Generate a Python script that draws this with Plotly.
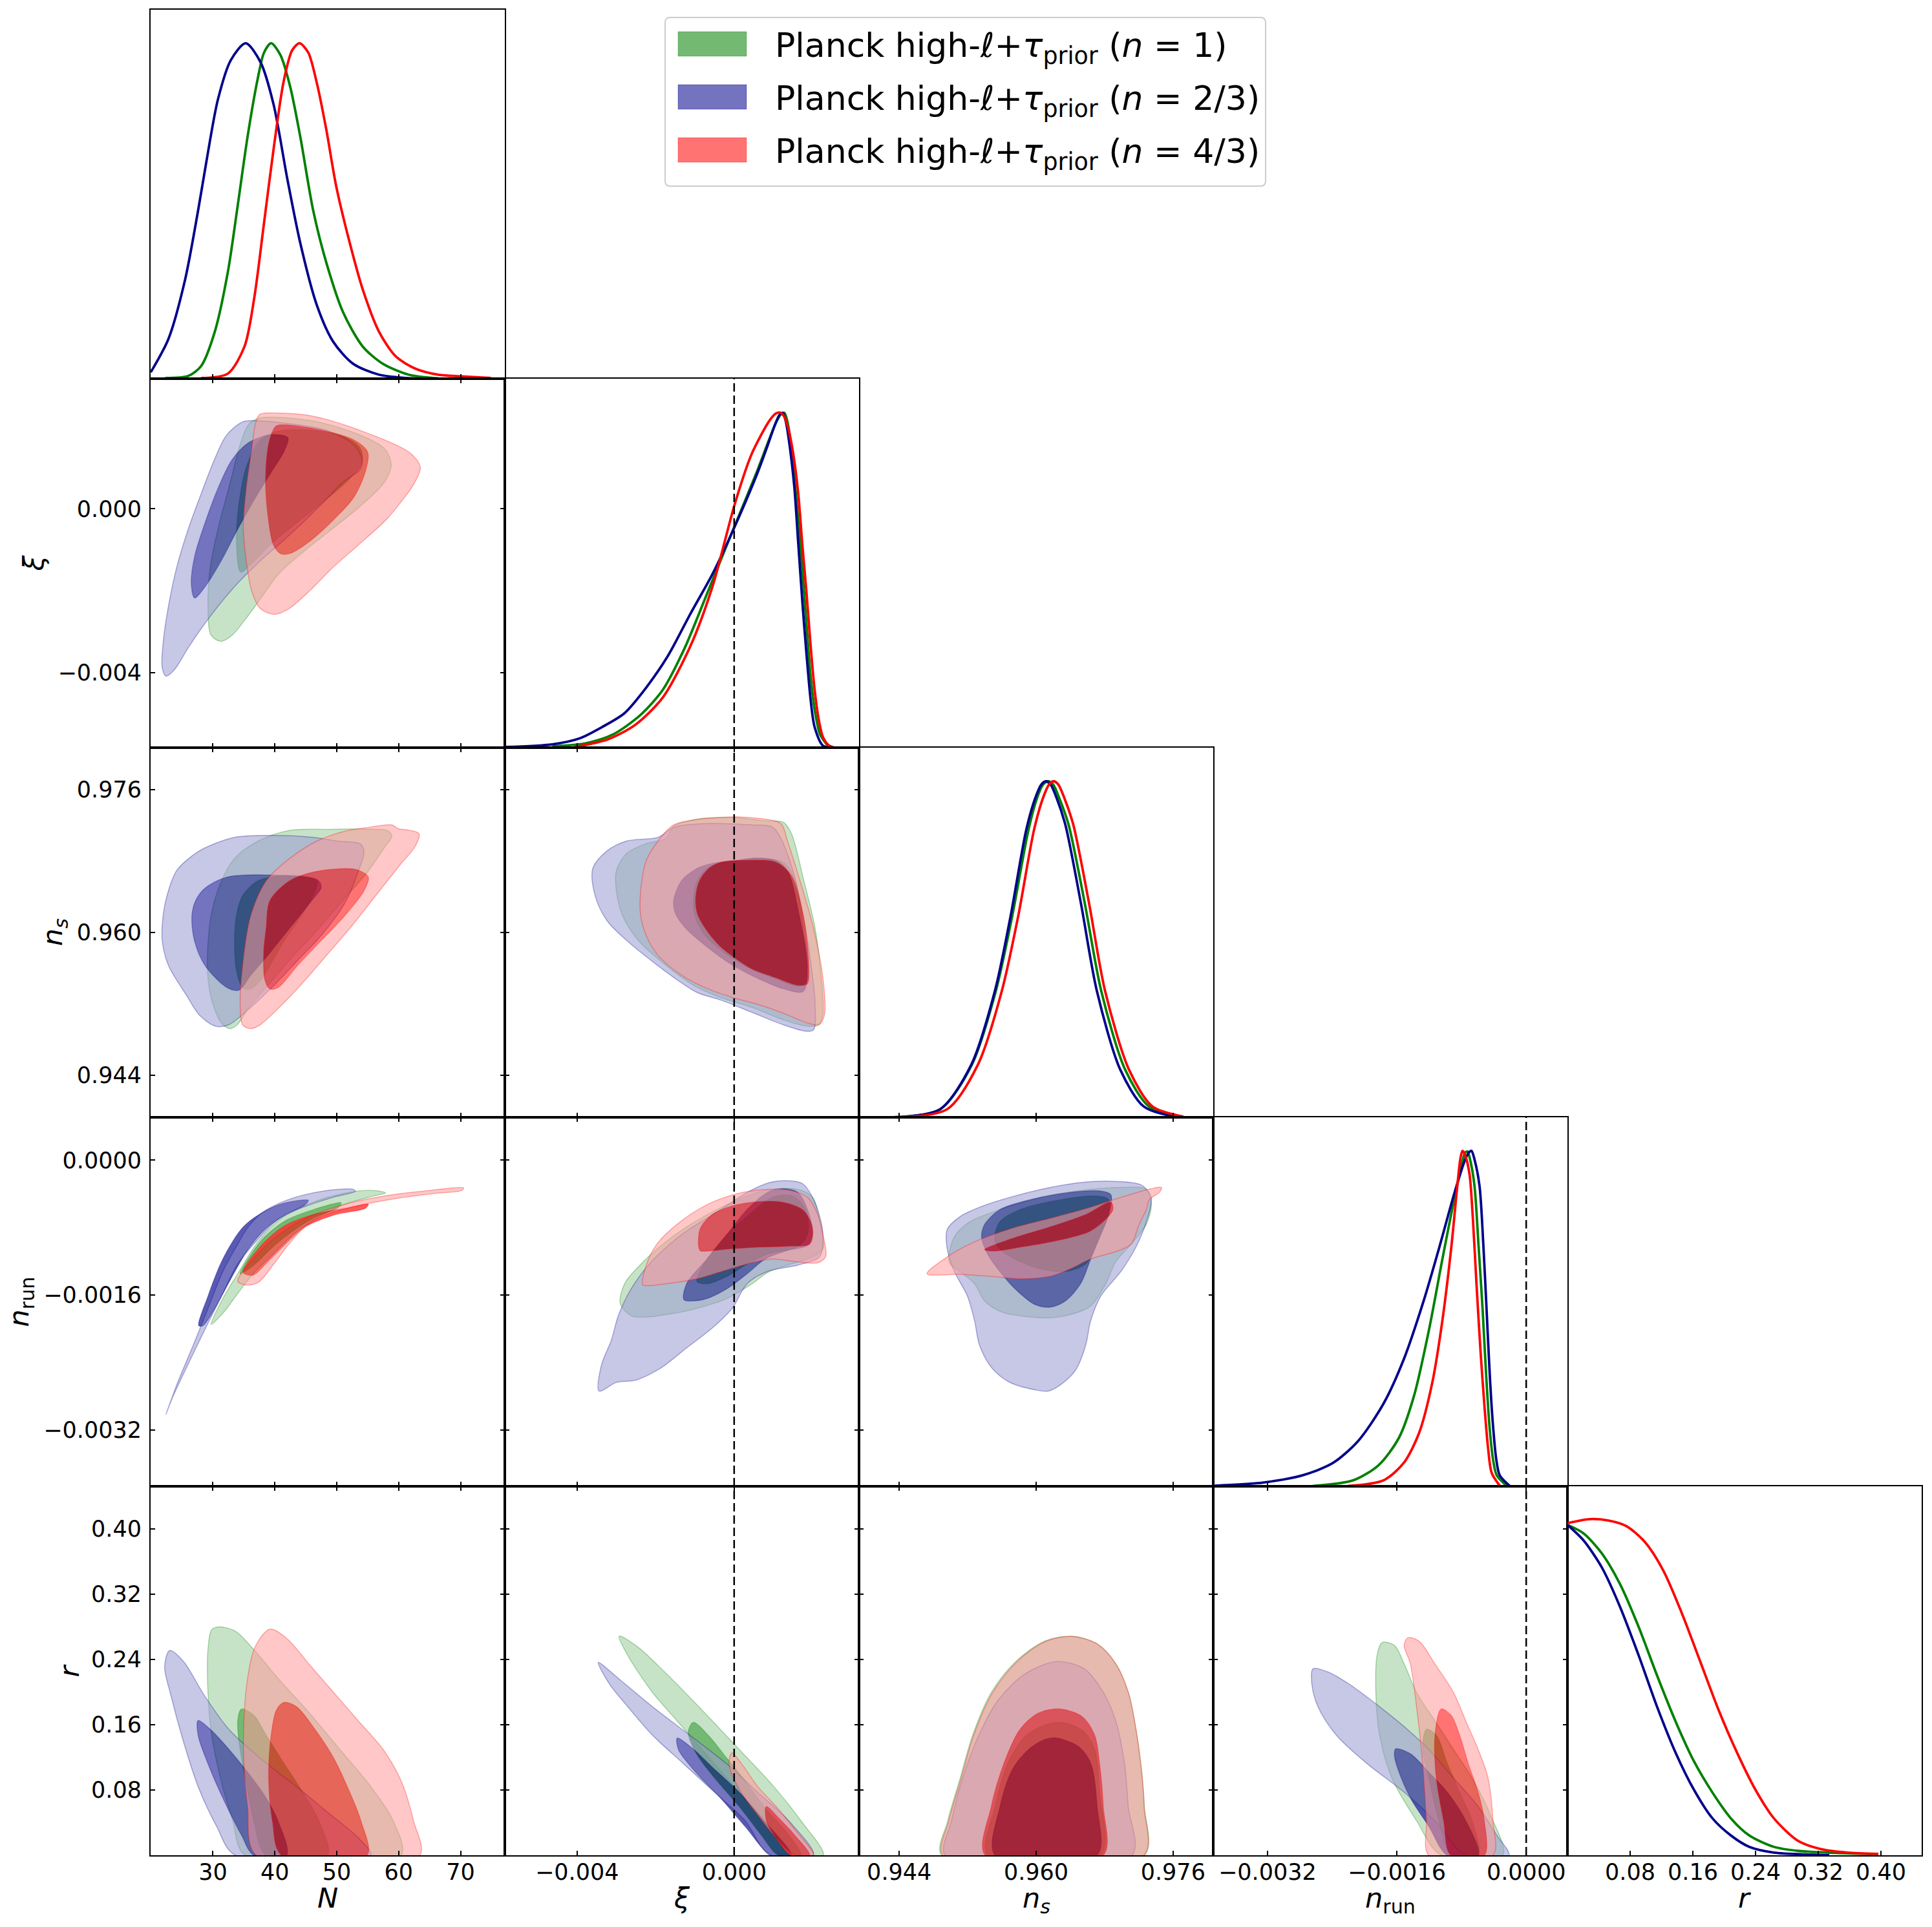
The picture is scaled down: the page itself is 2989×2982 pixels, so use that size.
import plotly.graph_objects as go

# ---------------- figure geometry (pixels) ----------------
W, H = 2989, 2982
COL_X = [233, 781, 1329, 1877, 2425, 2973]
ROW_Y = [15, 586, 1157, 1729, 2300, 2871]

# ---------------- series / labels ----------------
SERIES_NAMES = [
    "Planck high-<i>ℓ</i>+<i>τ</i><sub>prior</sub> (<i>n</i> = 1)",
    "Planck high-<i>ℓ</i>+<i>τ</i><sub>prior</sub> (<i>n</i> = 2/3)",
    "Planck high-<i>ℓ</i>+<i>τ</i><sub>prior</sub> (<i>n</i> = 4/3)",
]
SERIES_RGB = [(0, 128, 0), (0, 0, 139), (255, 0, 0)]
PARAM_LABELS = ["<i>N</i>", "<i>ξ</i>", "<i>n</i><sub><i>s</i></sub>", "<i>n</i><sub>run</sub>", "<i>r</i>"]

RANGE_N = [19.93, 77.15]
RANGE_XI = [-0.00584, 0.00318]
RANGE_NS = [0.9393, 0.9807]
RANGE_NRUN = [-0.00387, 0.00051]
RANGE_R = [0.0, 0.452]

TICKS_N = [30, 40, 50, 60, 70]
TICKTEXT_N = ["30", "40", "50", "60", "70"]
TICKS_XI = [-0.004, 0.0]
TICKTEXT_XI = ["−0.004", "0.000"]
TICKS_NS = [0.944, 0.960, 0.976]
TICKTEXT_NS = ["0.944", "0.960", "0.976"]
TICKS_NRUN = [-0.0032, -0.0016, 0.0]
TICKTEXT_NRUN = ["−0.0032", "−0.0016", "0.0000"]
TICKS_R = [0.08, 0.16, 0.24, 0.32, 0.40]
TICKTEXT_R = ["0.08", "0.16", "0.24", "0.32", "0.40"]

# ---------------- 1D marginals (x, normalised density) ----------------
MARG_N_GREEN = [(22.3, 0.002), (26.0, 0.008), (28.1, 0.038), (30.3, 0.14), (32.4, 0.317), (34.0, 0.516), (35.6, 0.722),
                (37.2, 0.891), (38.25, 0.972), (39.4, 1.0), (40.9, 0.965), (42.5, 0.869), (44.1, 0.722), (46.2, 0.501),
                (48.3, 0.347), (51.0, 0.199), (54.2, 0.096), (57.4, 0.045), (61.6, 0.012), (66.4, 0.001)]
MARG_N_BLUE = [(19.95, 0.019), (22.8, 0.118), (25.5, 0.295), (27.6, 0.501), (28.95, 0.648), (30.8, 0.832), (32.9, 0.950),
               (35.3, 1.0), (37.7, 0.943), (39.8, 0.817), (42.0, 0.597), (44.1, 0.405), (46.75, 0.221), (49.4, 0.111),
               (52.6, 0.045), (56.8, 0.012), (62.2, 0.001), (64.8, 0.0)]
MARG_N_RED = [(28.1, 0.002), (32.4, 0.015), (35.1, 0.096), (36.7, 0.244), (38.25, 0.464), (39.8, 0.685), (41.4, 0.884),
              (42.8, 0.979), (44.0, 1.0), (45.4, 0.972), (46.75, 0.884), (48.3, 0.744), (49.9, 0.575), (52.1, 0.405),
              (54.2, 0.266), (56.8, 0.141), (59.5, 0.067), (62.7, 0.030), (66.4, 0.012), (70.1, 0.007), (74.9, 0.002)]

MARG_XI_GREEN = [(-0.00463, 0.004), (-0.00379, 0.013), (-0.00309, 0.039), (-0.00238, 0.098), (-0.00182, 0.172),
                 (-0.00126, 0.297), (-0.00069, 0.459), (0.00001, 0.66), (0.00057, 0.820), (0.00088, 0.915),
                 (0.00107, 0.97), (0.00120, 0.995), (0.00128, 0.998), (0.00135, 0.975), (0.00143, 0.92),
                 (0.00157, 0.76), (0.00173, 0.54), (0.00184, 0.37), (0.00195, 0.208), (0.00207, 0.10),
                 (0.00219, 0.039), (0.00240, 0.004)]
MARG_XI_BLUE = [(-0.00583, 0.002), (-0.00463, 0.010), (-0.00393, 0.028), (-0.00337, 0.061), (-0.00280, 0.102),
                (-0.00224, 0.179), (-0.00168, 0.275), (-0.00111, 0.400), (-0.00055, 0.518), (0.00001, 0.658),
                (0.00057, 0.812), (0.00085, 0.90), (0.00103, 0.96), (0.00116, 0.993), (0.00124, 0.998),
                (0.00131, 0.975), (0.00139, 0.92), (0.00153, 0.78), (0.00163, 0.613), (0.00174, 0.43),
                (0.00184, 0.282), (0.00195, 0.14), (0.00205, 0.061), (0.00226, 0.006), (0.00254, 0.0)]
MARG_XI_RED = [(-0.00407, 0.002), (-0.00323, 0.024), (-0.00252, 0.068), (-0.00182, 0.149), (-0.00111, 0.304),
               (-0.00055, 0.481), (0.00001, 0.724), (0.00043, 0.871), (0.00070, 0.935), (0.00090, 0.975),
               (0.00106, 0.996), (0.00116, 0.999), (0.00126, 0.99), (0.00136, 0.96), (0.00150, 0.88),
               (0.00163, 0.76), (0.00174, 0.60), (0.00184, 0.466), (0.00195, 0.30), (0.00205, 0.172),
               (0.00216, 0.08), (0.00226, 0.032), (0.00240, 0.008), (0.00254, 0.001)]

MARG_NS_GREEN = [(0.9433, 0.0), (0.9488, 0.024), (0.9525, 0.157), (0.9553, 0.377), (0.9572, 0.598), (0.9591, 0.855),
                 (0.9601, 0.95), (0.9608, 0.99), (0.9614, 1.0), (0.9620, 0.99), (0.9627, 0.95), (0.9638, 0.870),
                 (0.9657, 0.635), (0.9676, 0.377), (0.9704, 0.142), (0.9732, 0.032), (0.9769, 0.002)]
MARG_NS_BLUE = [(0.94327, 0.0), (0.94877, 0.024), (0.95243, 0.157), (0.95519, 0.377), (0.95701, 0.598),
                (0.95884, 0.855), (0.95990, 0.95), (0.96060, 0.99), (0.96113, 1.0), (0.96170, 0.99),
                (0.96240, 0.95), (0.96342, 0.870), (0.96525, 0.635), (0.96709, 0.377), (0.96983, 0.142),
                (0.97258, 0.032), (0.97624, 0.002)]
MARG_NS_RED = [(0.9440, 0.0), (0.9496, 0.024), (0.9532, 0.157), (0.9560, 0.377), (0.9579, 0.598), (0.95975, 0.855),
               (0.9608, 0.95), (0.9615, 0.99), (0.96205, 1.0), (0.9626, 0.99), (0.9633, 0.95), (0.96435, 0.870),
               (0.9662, 0.635), (0.96805, 0.377), (0.97085, 0.142), (0.9736, 0.032), (0.9772, 0.002)]

MARG_NRUN_GREEN = [(-0.002636, 0.001), (-0.002137, 0.018), (-0.001825, 0.063), (-0.001575, 0.144), (-0.001388, 0.269),
                   (-0.001201, 0.468), (-0.001039, 0.674), (-0.000889, 0.858), (-0.000789, 0.968), (-0.000755, 0.995),
                   (-0.000725, 0.998), (-0.000690, 0.97), (-0.000639, 0.895), (-0.000590, 0.72), (-0.000539, 0.527),
                   (-0.000495, 0.33), (-0.000452, 0.173), (-0.000410, 0.08), (-0.000365, 0.033), (-0.000240, 0.001)]
MARG_NRUN_BLUE = [(-0.00387, 0.001), (-0.003822, 0.002), (-0.003261, 0.011), (-0.002762, 0.033), (-0.002387, 0.070),
                  (-0.002075, 0.136), (-0.001763, 0.247), (-0.001513, 0.379), (-0.001264, 0.556), (-0.001076, 0.711),
                  (-0.000889, 0.873), (-0.000764, 0.968), (-0.000710, 0.995), (-0.000677, 1.0), (-0.000640, 0.975),
                  (-0.000577, 0.895), (-0.000530, 0.72), (-0.000490, 0.527), (-0.000450, 0.33), (-0.000415, 0.195),
                  (-0.000370, 0.08), (-0.000328, 0.033), (-0.000203, 0.001)]
MARG_NRUN_RED = [(-0.002200, 0.001), (-0.001763, 0.018), (-0.001513, 0.070), (-0.001326, 0.158), (-0.001164, 0.306),
                 (-0.001039, 0.490), (-0.000927, 0.711), (-0.000852, 0.895), (-0.000815, 0.975), (-0.000789, 1.0),
                 (-0.000760, 0.99), (-0.000702, 0.932), (-0.000660, 0.80), (-0.000614, 0.600), (-0.000564, 0.40),
                 (-0.000514, 0.232), (-0.000470, 0.11), (-0.000427, 0.040), (-0.000328, 0.002)]

MARG_R_GREEN = [(0.0, 0.985), (0.0204, 0.960), (0.0439, 0.900), (0.0674, 0.807), (0.0910, 0.680), (0.1145, 0.535),
                (0.1380, 0.399), (0.1615, 0.280), (0.1851, 0.187), (0.2086, 0.110), (0.2321, 0.059), (0.2635, 0.025),
                (0.2949, 0.013), (0.3419, 0.007), (0.3968, 0.003)]
MARG_R_BLUE = [(0.0, 0.985), (0.0204, 0.939), (0.0439, 0.858), (0.0674, 0.739), (0.0910, 0.595), (0.1145, 0.442),
               (0.1380, 0.306), (0.1615, 0.195), (0.1851, 0.110), (0.2086, 0.059), (0.2321, 0.025), (0.2635, 0.008),
               (0.3105, 0.002), (0.334, 0.0)]
MARG_R_RED = [(0.0, 0.990), (0.0282, 1.002), (0.0518, 0.998), (0.0753, 0.981), (0.0988, 0.934), (0.1223, 0.849),
              (0.1459, 0.722), (0.1694, 0.578), (0.1929, 0.433), (0.2164, 0.306), (0.2400, 0.195), (0.2635, 0.110),
              (0.2949, 0.042), (0.3262, 0.017), (0.3576, 0.008), (0.3968, 0.004)]

# ---------------- 2D contours (x, y) : 95% and 68% regions ----------------
# row xi, column N
XI_N_GREEN_95 = [(37.6, 2.22e-3), (45.6, 2.16e-3), (52.8, 1.86e-3), (57.7, 1.47e-3), (58.8, 1.08e-3), (57.7, 0.65e-3),
                 (53.7, 0.05e-3), (49.2, -0.50e-3), (44.7, -1.04e-3), (40.7, -1.58e-3), (38.0, -2.13e-3),
                 (35.4, -2.67e-3), (33.1, -3.09e-3), (31.3, -3.24e-3), (29.7, -3.09e-3), (29.2, -2.37e-3),
                 (29.6, -1.40e-3), (30.9, -0.44e-3), (32.7, 0.59e-3), (34.5, 1.62e-3), (35.8, 2.07e-3)]
XI_N_GREEN_68 = [(34.5, -1.55e-3), (33.8, -0.80e-3), (34.2, 0.11e-3), (35.4, 1.02e-3), (37.6, 1.68e-3), (40.3, 1.89e-3),
                 (45.6, 1.92e-3), (51.0, 1.77e-3), (53.7, 1.50e-3), (54.1, 1.14e-3), (51.9, 0.71e-3), (48.3, 0.23e-3),
                 (43.8, -0.31e-3), (39.4, -0.86e-3), (36.25, -1.34e-3)]
XI_N_BLUE_95 = [(34.9, 2.13e-3), (37.6, 2.145e-3), (42.9, 2.07e-3), (48.3, 1.92e-3), (52.8, 1.56e-3), (54.1, 1.20e-3),
                (53.7, 0.95e-3), (51.0, 0.65e-3), (48.3, 0.23e-3), (44.7, -0.31e-3), (41.2, -0.80e-3),
                (37.6, -1.28e-3), (34.0, -1.82e-3), (30.9, -2.37e-3), (28.2, -2.91e-3), (26.0, -3.40e-3),
                (23.75, -3.94e-3), (22.4, -4.09e-3), (21.8, -3.88e-3), (22.0, -3.21e-3), (22.9, -2.31e-3),
                (24.2, -1.40e-3), (26.0, -0.50e-3), (28.2, 0.41e-3), (30.4, 1.26e-3), (32.2, 1.80e-3)]
XI_N_BLUE_68 = [(27.05, -2.18e-3), (26.5, -1.82e-3), (27.05, -1.16e-3), (28.8, -0.31e-3), (30.9, 0.53e-3),
                (33.1, 1.20e-3), (35.8, 1.62e-3), (39.4, 1.81e-3), (42.1, 1.74e-3), (41.6, 1.44e-3), (39.4, 0.89e-3),
                (36.7, 0.23e-3), (34.0, -0.50e-3), (31.3, -1.28e-3), (28.8, -1.89e-3)]
XI_N_RED_95 = [(37.6, 2.31e-3), (40.3, 2.34e-3), (45.6, 2.28e-3), (53.7, 1.92e-3), (61.7, 1.38e-3), (63.5, 1.02e-3),
               (62.4, 0.59e-3), (60.4, 0.17e-3), (58.1, -0.25e-3), (53.7, -0.86e-3), (49.2, -1.46e-3),
               (45.6, -2.01e-3), (42.1, -2.46e-3), (39.8, -2.58e-3), (37.6, -2.43e-3), (36.25, -2.01e-3),
               (35.4, -1.28e-3), (34.9, -0.44e-3), (35.4, 0.53e-3), (36.25, 1.44e-3), (36.9, 2.10e-3)]
XI_N_RED_68 = [(40.3, 2.03e-3), (45.6, 1.98e-3), (52.8, 1.68e-3), (55.0, 1.38e-3), (54.7, 0.95e-3), (52.8, 0.29e-3),
               (49.2, -0.31e-3), (45.6, -0.80e-3), (42.5, -1.09e-3), (41.0, -1.10e-3), (39.8, -0.89e-3),
               (38.9, -0.19e-3), (38.5, 0.71e-3), (38.9, 1.50e-3), (39.55, 1.86e-3)]

# row n_s, column N
NS_N_GREEN_95 = [(33.5, 0.96829), (37.3, 0.97024), (42.4, 0.97144), (48.7, 0.97155), (55.1, 0.97158), (58.2, 0.97141),
                 (58.9, 0.97080), (57.6, 0.96941), (55.1, 0.96690), (51.3, 0.96384), (46.8, 0.96022), (42.7, 0.95716),
                 (38.9, 0.95410), (35.8, 0.95160), (33.9, 0.94965), (32.7, 0.94923), (31.3, 0.94993), (29.7, 0.95271),
                 (29.1, 0.95633), (29.7, 0.96189), (31.4, 0.96579)]
NS_N_GREEN_68 = [(33.8, 0.96189), (34.8, 0.96412), (37.3, 0.96579), (41.1, 0.96634), (44.9, 0.96621), (46.8, 0.96579),
                 (46.2, 0.96412), (44.3, 0.96189), (41.8, 0.95939), (39.9, 0.95716), (38.0, 0.95494), (36.1, 0.95368),
                 (34.8, 0.95382), (33.8, 0.95577), (33.5, 0.95911)]
NS_N_BLUE_95 = [(28.5, 0.96941), (33.5, 0.97066), (39.9, 0.97088), (46.2, 0.97066), (50.0, 0.97024), (53.8, 0.96991),
                (54.4, 0.96899), (53.5, 0.96690), (51.3, 0.96328), (47.5, 0.95967), (43.7, 0.95688), (39.9, 0.95410),
                (36.1, 0.95160), (32.5, 0.94965), (30.4, 0.94951), (27.8, 0.95076), (25.7, 0.95299), (22.8, 0.95633),
                (21.8, 0.95911), (22.2, 0.96301), (24.1, 0.96690), (26.6, 0.96857)]
NS_N_BLUE_68 = [(27.2, 0.96356), (28.7, 0.96495), (32.3, 0.96621), (39.9, 0.96643), (46.8, 0.96593), (47.5, 0.96509),
                (45.6, 0.96328), (42.4, 0.96050), (39.2, 0.95772), (36.1, 0.95521), (34.2, 0.95354), (32.3, 0.95382),
                (28.7, 0.95633), (27.0, 0.95911), (26.6, 0.96189)]
NS_N_RED_95 = [(51.3, 0.97135), (55.1, 0.97177), (58.9, 0.97205), (59.9, 0.97163), (61.4, 0.97149), (63.3, 0.97107),
               (62.7, 0.96968), (60.1, 0.96746), (56.3, 0.96412), (52.5, 0.96078), (48.7, 0.95772), (44.9, 0.95466),
               (41.1, 0.95187), (37.6, 0.94965), (36.1, 0.94923), (34.8, 0.94965), (34.4, 0.95215), (34.8, 0.95633),
               (36.1, 0.96189), (38.6, 0.96579), (42.4, 0.96829), (46.8, 0.97024)]
NS_N_RED_68 = [(38.6, 0.96050), (39.2, 0.96356), (42.4, 0.96579), (46.2, 0.96676), (50.0, 0.96712), (53.2, 0.96704),
               (55.1, 0.96621), (54.4, 0.96467), (51.3, 0.96189), (47.5, 0.95911), (43.7, 0.95633), (40.5, 0.95382),
               (39.2, 0.95368), (38.4, 0.95466), (38.2, 0.95772)]

# row n_s, column xi
NS_XI_GREEN_95 = [(-3.00e-3, 0.96690), (-2.74e-3, 0.96885), (-2.24e-3, 0.96996), (-1.74e-3, 0.97052), (-1.54e-3, 0.97191),
                  (-0.94e-3, 0.97269), (-0.04e-3, 0.97288), (0.76e-3, 0.97252), (1.26e-3, 0.97233), (1.46e-3, 0.97107),
                  (1.76e-3, 0.96607), (2.06e-3, 0.96050), (2.22e-3, 0.95494), (2.26e-3, 0.95076), (2.16e-3, 0.94965),
                  (1.86e-3, 0.94951), (1.26e-3, 0.95020), (0.46e-3, 0.95160), (-0.34e-3, 0.95271), (-1.04e-3, 0.95410),
                  (-1.74e-3, 0.95633), (-2.44e-3, 0.95911), (-2.84e-3, 0.96189), (-3.00e-3, 0.96467)]
NS_XI_GREEN_68 = [(-1.04e-3, 0.96328), (-0.94e-3, 0.96579), (-0.64e-3, 0.96732), (-0.04e-3, 0.96801), (0.66e-3, 0.96829),
                  (1.26e-3, 0.96787), (1.56e-3, 0.96579), (1.76e-3, 0.96050), (1.86e-3, 0.95466), (1.66e-3, 0.95396),
                  (1.06e-3, 0.95480), (0.36e-3, 0.95605), (-0.24e-3, 0.95772), (-0.74e-3, 0.95967), (-0.98e-3, 0.96161)]
NS_XI_BLUE_95 = [(-3.60e-3, 0.96718), (-3.24e-3, 0.96913), (-2.74e-3, 0.97024), (-1.94e-3, 0.97066), (-1.54e-3, 0.97177),
                 (-0.74e-3, 0.97219), (0.46e-3, 0.97205), (0.96e-3, 0.97185), (1.16e-3, 0.97080), (1.46e-3, 0.96746),
                 (1.76e-3, 0.96189), (1.96e-3, 0.95633), (2.06e-3, 0.95215), (2.02e-3, 0.94909), (1.82e-3, 0.94895),
                 (1.26e-3, 0.94965), (0.46e-3, 0.95104), (-0.34e-3, 0.95243), (-0.94e-3, 0.95327), (-1.44e-3, 0.95466),
                 (-2.04e-3, 0.95661), (-2.74e-3, 0.95911), (-3.24e-3, 0.96134), (-3.54e-3, 0.96412)]
NS_XI_BLUE_68 = [(-1.50e-3, 0.96217), (-1.54e-3, 0.96356), (-1.34e-3, 0.96579), (-0.94e-3, 0.96718), (-0.54e-3, 0.96774),
                 (0.06e-3, 0.96807), (0.56e-3, 0.96835), (1.06e-3, 0.96807), (1.36e-3, 0.96690), (1.66e-3, 0.96189),
                 (1.86e-3, 0.95633), (1.76e-3, 0.95340), (1.26e-3, 0.95368), (0.56e-3, 0.95494), (-0.14e-3, 0.95661),
                 (-0.74e-3, 0.95855), (-1.24e-3, 0.96050)]
NS_XI_RED_95 = [(-2.38e-3, 0.96189), (-2.38e-3, 0.96467), (-2.24e-3, 0.96801), (-1.94e-3, 0.97024), (-1.54e-3, 0.97205),
                (-1.04e-3, 0.97260), (-0.34e-3, 0.97288), (0.16e-3, 0.97294), (1.06e-3, 0.97247), (1.22e-3, 0.97205),
                (1.36e-3, 0.97024), (1.66e-3, 0.96607), (2.02e-3, 0.96050), (2.26e-3, 0.95494), (2.30e-3, 0.95076),
                (2.16e-3, 0.94970), (1.86e-3, 0.94987), (1.36e-3, 0.95076), (0.66e-3, 0.95187), (-0.04e-3, 0.95271),
                (-0.74e-3, 0.95382), (-1.34e-3, 0.95521), (-1.94e-3, 0.95744), (-2.24e-3, 0.95967)]
NS_XI_RED_68 = [(-0.94e-3, 0.96217), (-0.98e-3, 0.96384), (-0.88e-3, 0.96579), (-0.64e-3, 0.96718), (-0.34e-3, 0.96787),
                (0.26e-3, 0.96807), (1.06e-3, 0.96787), (1.46e-3, 0.96634), (1.76e-3, 0.96189), (1.90e-3, 0.95633),
                (1.86e-3, 0.95424), (1.62e-3, 0.95410), (1.06e-3, 0.95494), (0.46e-3, 0.95591), (0.06e-3, 0.95702),
                (-0.38e-3, 0.95855), (-0.74e-3, 0.96050)]

# row n_run, column N
NRUN_N_GREEN_95 = [(29.7, -1.949e-3), (31.6, -1.641e-3), (34.0, -1.348e-3), (37.3, -0.967e-3), (41.3, -0.674e-3),
                   (46.2, -0.498e-3), (51.9, -0.381e-3), (56.2, -0.360e-3), (57.9, -0.387e-3), (55.9, -0.425e-3),
                   (51.1, -0.527e-3), (47.0, -0.674e-3), (43.0, -0.879e-3), (39.7, -1.114e-3), (36.5, -1.348e-3),
                   (34.0, -1.582e-3), (31.6, -1.817e-3)]
NRUN_N_GREEN_68 = [(34.4, -1.348e-3), (36.2, -1.114e-3), (38.4, -0.908e-3), (41.7, -0.718e-3), (46.2, -0.586e-3),
                   (50.7, -0.504e-3), (50.2, -0.563e-3), (46.5, -0.674e-3), (43.0, -0.835e-3), (39.7, -1.026e-3),
                   (36.8, -1.231e-3)]
NRUN_N_BLUE_95 = [(22.4, -3.018e-3), (24.3, -2.637e-3), (26.8, -2.198e-3), (29.2, -1.758e-3), (31.6, -1.319e-3),
                  (34.0, -0.996e-3), (35.7, -0.791e-3), (38.1, -0.615e-3), (42.1, -0.469e-3), (47.8, -0.366e-3),
                  (52.7, -0.346e-3), (53.0, -0.369e-3), (49.4, -0.440e-3), (44.6, -0.557e-3), (40.5, -0.703e-3),
                  (37.3, -0.938e-3), (34.0, -1.231e-3), (31.6, -1.582e-3), (29.2, -1.934e-3), (26.3, -2.374e-3),
                  (23.5, -2.813e-3)]
NRUN_N_BLUE_68 = [(27.7, -1.963e-3), (29.2, -1.612e-3), (31.6, -1.172e-3), (34.9, -0.791e-3), (38.1, -0.615e-3),
                  (41.3, -0.513e-3), (45.4, -0.475e-3), (44.9, -0.527e-3), (41.7, -0.645e-3), (38.4, -0.821e-3),
                  (35.7, -1.055e-3), (32.9, -1.407e-3), (30.3, -1.758e-3), (28.4, -1.963e-3)]
NRUN_N_RED_95 = [(34.0, -1.436e-3), (36.5, -1.172e-3), (39.7, -0.938e-3), (44.6, -0.703e-3), (51.1, -0.527e-3),
                 (57.5, -0.425e-3), (64.0, -0.366e-3), (70.5, -0.328e-3), (70.2, -0.357e-3), (65.6, -0.396e-3),
                 (59.1, -0.460e-3), (52.7, -0.551e-3), (47.8, -0.659e-3), (44.6, -0.806e-3), (42.1, -1.011e-3),
                 (39.7, -1.245e-3), (37.3, -1.451e-3), (35.3, -1.480e-3)]
NRUN_N_RED_68 = [(34.9, -1.333e-3), (37.3, -1.055e-3), (41.3, -0.791e-3), (46.2, -0.645e-3), (51.9, -0.563e-3),
                 (55.1, -0.522e-3), (54.6, -0.571e-3), (49.8, -0.645e-3), (44.9, -0.791e-3), (41.7, -0.996e-3),
                 (38.9, -1.201e-3), (36.5, -1.363e-3)]

# row n_run, column xi
NRUN_XI_GREEN_95 = [(-2.90e-3, -1.700e-3), (-2.79e-3, -1.465e-3), (-2.49e-3, -1.289e-3), (-1.97e-3, -1.055e-3),
                    (-1.21e-3, -0.791e-3), (-0.44e-3, -0.586e-3), (0.33e-3, -0.425e-3), (0.85e-3, -0.352e-3),
                    (1.62e-3, -0.346e-3), (2.00e-3, -0.440e-3), (2.18e-3, -0.733e-3), (2.26e-3, -1.055e-3),
                    (1.87e-3, -1.172e-3), (1.36e-3, -1.245e-3), (0.85e-3, -1.333e-3), (0.46e-3, -1.465e-3),
                    (-0.18e-3, -1.641e-3), (-0.95e-3, -1.758e-3), (-1.72e-3, -1.832e-3), (-2.23e-3, -1.861e-3),
                    (-2.62e-3, -1.846e-3)]
NRUN_XI_GREEN_68 = [(-0.95e-3, -1.436e-3), (-0.69e-3, -1.172e-3), (-0.18e-3, -0.879e-3), (0.46e-3, -0.615e-3),
                    (0.97e-3, -0.440e-3), (1.49e-3, -0.425e-3), (1.82e-3, -0.586e-3), (1.87e-3, -0.879e-3),
                    (1.62e-3, -1.026e-3), (0.85e-3, -1.114e-3), (0.33e-3, -1.231e-3), (-0.18e-3, -1.377e-3),
                    (-0.69e-3, -1.465e-3)]
NRUN_XI_BLUE_95 = [(-3.44e-3, -2.740e-3), (-3.38e-3, -2.432e-3), (-3.13e-3, -2.139e-3), (-2.95e-3, -1.846e-3),
                   (-2.62e-3, -1.524e-3), (-2.10e-3, -1.201e-3), (-1.33e-3, -0.879e-3), (-0.44e-3, -0.615e-3),
                   (0.33e-3, -0.381e-3), (0.90e-3, -0.264e-3), (1.36e-3, -0.243e-3), (1.74e-3, -0.278e-3),
                   (2.08e-3, -0.527e-3), (2.26e-3, -0.879e-3), (2.18e-3, -1.143e-3), (1.62e-3, -1.245e-3),
                   (0.85e-3, -1.319e-3), (0.33e-3, -1.465e-3), (-0.05e-3, -1.758e-3), (-0.56e-3, -1.993e-3),
                   (-1.21e-3, -2.227e-3), (-1.85e-3, -2.461e-3), (-2.49e-3, -2.608e-3), (-3.00e-3, -2.637e-3)]
NRUN_XI_BLUE_68 = [(-1.28e-3, -1.656e-3), (-1.21e-3, -1.465e-3), (-0.69e-3, -1.172e-3), (-0.18e-3, -0.879e-3),
                   (0.33e-3, -0.586e-3), (0.85e-3, -0.381e-3), (1.23e-3, -0.337e-3), (1.62e-3, -0.381e-3),
                   (1.87e-3, -0.586e-3), (2.00e-3, -0.879e-3), (1.87e-3, -1.011e-3), (1.36e-3, -1.070e-3),
                   (0.79e-3, -1.172e-3), (0.33e-3, -1.348e-3), (-0.18e-3, -1.524e-3), (-0.69e-3, -1.641e-3),
                   (-1.05e-3, -1.670e-3)]
NRUN_XI_RED_95 = [(-2.33e-3, -1.480e-3), (-2.23e-3, -1.231e-3), (-1.97e-3, -0.996e-3), (-1.46e-3, -0.762e-3),
                  (-0.69e-3, -0.527e-3), (0.08e-3, -0.396e-3), (0.85e-3, -0.346e-3), (1.36e-3, -0.352e-3),
                  (1.87e-3, -0.440e-3), (2.13e-3, -0.645e-3), (2.26e-3, -0.879e-3), (2.33e-3, -1.143e-3),
                  (2.13e-3, -1.216e-3), (1.62e-3, -1.207e-3), (0.97e-3, -1.172e-3), (0.33e-3, -1.231e-3),
                  (-0.31e-3, -1.319e-3), (-0.95e-3, -1.407e-3), (-1.72e-3, -1.465e-3), (-2.23e-3, -1.489e-3)]
NRUN_XI_RED_68 = [(-0.87e-3, -1.070e-3), (-0.87e-3, -0.821e-3), (-0.56e-3, -0.645e-3), (-0.05e-3, -0.542e-3),
                  (0.59e-3, -0.492e-3), (1.23e-3, -0.498e-3), (1.74e-3, -0.586e-3), (1.95e-3, -0.733e-3),
                  (2.00e-3, -0.879e-3), (1.92e-3, -0.996e-3), (1.36e-3, -1.020e-3), (0.59e-3, -1.032e-3),
                  (-0.18e-3, -1.055e-3), (-0.69e-3, -1.078e-3)]

# row n_run, column n_s
NRUN_NS_GREEN_95 = [(0.94985, -1.216e-3), (0.95044, -0.908e-3), (0.95221, -0.733e-3), (0.95575, -0.586e-3),
                    (0.96047, -0.440e-3), (0.96520, -0.358e-3), (0.96992, -0.322e-3), (0.97287, -0.346e-3),
                    (0.97346, -0.527e-3), (0.97287, -0.762e-3), (0.97110, -0.996e-3), (0.96933, -1.201e-3),
                    (0.96815, -1.465e-3), (0.96638, -1.729e-3), (0.96401, -1.832e-3), (0.96165, -1.870e-3),
                    (0.95929, -1.861e-3), (0.95599, -1.802e-3), (0.95398, -1.670e-3), (0.95280, -1.465e-3),
                    (0.95103, -1.319e-3)]
NRUN_NS_GREEN_68 = [(0.95516, -0.938e-3), (0.95575, -0.733e-3), (0.95811, -0.586e-3), (0.96283, -0.469e-3),
                    (0.96697, -0.425e-3), (0.96850, -0.469e-3), (0.96815, -0.733e-3), (0.96697, -1.026e-3),
                    (0.96579, -1.231e-3), (0.96342, -1.319e-3), (0.96047, -1.289e-3), (0.95752, -1.172e-3),
                    (0.95575, -1.055e-3)]
NRUN_NS_BLUE_95 = [(0.96520, -0.264e-3), (0.96874, -0.249e-3), (0.97228, -0.293e-3), (0.97346, -0.440e-3),
                   (0.97287, -0.733e-3), (0.97169, -1.026e-3), (0.96992, -1.319e-3), (0.96756, -1.612e-3),
                   (0.96638, -1.905e-3), (0.96579, -2.198e-3), (0.96461, -2.491e-3), (0.96283, -2.667e-3),
                   (0.96142, -2.740e-3), (0.95988, -2.725e-3), (0.95693, -2.637e-3), (0.95480, -2.462e-3),
                   (0.95339, -2.198e-3), (0.95280, -1.905e-3), (0.95197, -1.612e-3), (0.95044, -1.319e-3),
                   (0.94961, -1.055e-3), (0.94961, -0.821e-3), (0.95103, -0.674e-3), (0.95339, -0.557e-3),
                   (0.95693, -0.440e-3), (0.96165, -0.322e-3)]
NRUN_NS_BLUE_68 = [(0.95362, -0.908e-3), (0.95398, -0.762e-3), (0.95575, -0.586e-3), (0.95929, -0.469e-3),
                   (0.96401, -0.381e-3), (0.96756, -0.366e-3), (0.96874, -0.410e-3), (0.96850, -0.645e-3),
                   (0.96756, -0.879e-3), (0.96638, -1.172e-3), (0.96520, -1.465e-3), (0.96342, -1.670e-3),
                   (0.96165, -1.744e-3), (0.95988, -1.714e-3), (0.95752, -1.524e-3), (0.95575, -1.319e-3),
                   (0.95433, -1.114e-3)]
NRUN_NS_RED_95 = [(0.94725, -1.348e-3), (0.94925, -1.172e-3), (0.95221, -0.996e-3), (0.95693, -0.815e-3),
                  (0.96165, -0.689e-3), (0.96638, -0.557e-3), (0.96992, -0.440e-3), (0.97346, -0.337e-3),
                  (0.97464, -0.322e-3), (0.97441, -0.381e-3), (0.97323, -0.469e-3), (0.97287, -0.586e-3),
                  (0.97204, -0.762e-3), (0.97110, -0.996e-3), (0.96933, -1.084e-3), (0.96638, -1.172e-3),
                  (0.96401, -1.289e-3), (0.96165, -1.377e-3), (0.95811, -1.407e-3), (0.95457, -1.377e-3),
                  (0.95103, -1.354e-3)]
NRUN_NS_RED_68 = [(0.95398, -1.061e-3), (0.95693, -0.938e-3), (0.96165, -0.791e-3), (0.96579, -0.645e-3),
                  (0.96874, -0.498e-3), (0.96897, -0.586e-3), (0.96779, -0.733e-3), (0.96614, -0.850e-3),
                  (0.96378, -0.923e-3), (0.96106, -0.982e-3), (0.95811, -1.032e-3), (0.95516, -1.078e-3)]

# row r, column N
R_N_GREEN_95 = [(31.0, 0.2798), (33.6, 0.2746), (36.6, 0.2519), (40.5, 0.2169), (45.5, 0.1750), (50.5, 0.1296),
                (55.5, 0.0842), (59.1, 0.0423), (60.4, 0.0), (35.2, 0.0), (33.2, 0.0423), (31.2, 0.0947),
                (29.8, 0.1471), (29.2, 0.1995), (29.2, 0.2519), (29.8, 0.2763)]
R_N_GREEN_68 = [(34.6, 0.1792), (36.6, 0.1715), (38.6, 0.1471), (41.5, 0.1121), (44.5, 0.0772), (47.1, 0.0423),
                (48.5, 0.0), (38.6, 0.0), (36.6, 0.0423), (35.2, 0.0947), (34.2, 0.1401), (34.0, 0.1646)]
R_N_BLUE_95 = [(23.0, 0.2508), (25.2, 0.2379), (28.6, 0.1960), (32.6, 0.1541), (37.6, 0.1191), (43.5, 0.0842),
               (48.5, 0.0528), (53.5, 0.0213), (55.5, 0.0), (33.6, 0.0), (30.6, 0.0353), (27.6, 0.0842),
               (25.2, 0.1401), (23.2, 0.1960), (22.2, 0.2309)]
R_N_BLUE_68 = [(27.6, 0.1652), (29.6, 0.1541), (32.6, 0.1296), (35.6, 0.1017), (38.6, 0.0702), (40.5, 0.0423),
               (41.9, 0.0), (36.6, 0.0), (34.6, 0.0248), (31.6, 0.0702), (29.2, 0.1121), (27.6, 0.1471)]
R_N_RED_95 = [(39.2, 0.2770), (41.9, 0.2658), (45.5, 0.2344), (49.5, 0.1995), (53.5, 0.1645), (57.5, 0.1296),
              (60.4, 0.0912), (62.4, 0.0423), (63.4, 0.0), (37.0, 0.0), (35.6, 0.0597), (35.0, 0.1121),
              (35.0, 0.1645), (35.6, 0.2169), (36.8, 0.2553)]
R_N_RED_68 = [(41.5, 0.1872), (43.5, 0.1820), (46.5, 0.1541), (49.5, 0.1191), (52.1, 0.0772), (53.9, 0.0423),
              (54.9, 0.0), (41.1, 0.0), (39.6, 0.0423), (39.0, 0.0947), (39.4, 0.1471), (40.3, 0.1785)]

# row r, column xi
R_XI_GREEN_95 = [(-2.93e-3, 0.2683), (-2.71e-3, 0.2449), (-2.08e-3, 0.1995), (-1.45e-3, 0.1645), (-0.82e-3, 0.1296),
                 (-0.19e-3, 0.0947), (0.44e-3, 0.0597), (1.07e-3, 0.0248), (1.39e-3, 0.0), (2.27e-3, 0.0),
                 (1.70e-3, 0.0423), (1.01e-3, 0.0842), (0.13e-3, 0.1296), (-0.76e-3, 0.1750), (-1.61e-3, 0.2169),
                 (-2.46e-3, 0.2554)]
R_XI_GREEN_68 = [(-1.04e-3, 0.1628), (-0.66e-3, 0.1471), (-0.19e-3, 0.1191), (0.28e-3, 0.0912), (0.76e-3, 0.0597),
                 (1.39e-3, 0.0248), (1.70e-3, 0.0), (1.13e-3, 0.0), (0.69e-3, 0.0248), (0.13e-3, 0.0597),
                 (-0.50e-3, 0.0947), (-0.98e-3, 0.1261), (-1.17e-3, 0.1506)]
R_XI_BLUE_95 = [(-3.46e-3, 0.2362), (-3.18e-3, 0.2100), (-2.71e-3, 0.1820), (-2.08e-3, 0.1471), (-1.29e-3, 0.1121),
                (-0.50e-3, 0.0772), (0.28e-3, 0.0423), (0.91e-3, 0.0), (2.02e-3, 0.0), (1.39e-3, 0.0423),
                (0.60e-3, 0.0772), (-0.19e-3, 0.1121), (-1.13e-3, 0.1471), (-2.08e-3, 0.1820), (-2.87e-3, 0.2135)]
R_XI_BLUE_68 = [(-1.45e-3, 0.1436), (-1.07e-3, 0.1314), (-0.50e-3, 0.1052), (0.13e-3, 0.0772), (0.76e-3, 0.0423),
                (1.45e-3, 0.0), (0.94e-3, 0.0), (0.28e-3, 0.0353), (-0.35e-3, 0.0702), (-0.98e-3, 0.1017),
                (-1.42e-3, 0.1296)]
R_XI_RED_95 = [(-0.06e-3, 0.1254), (0.19e-3, 0.1121), (0.60e-3, 0.0842), (1.07e-3, 0.0597), (1.54e-3, 0.0318),
               (2.02e-3, 0.0), (1.54e-3, 0.0), (1.07e-3, 0.0213), (0.60e-3, 0.0493), (0.13e-3, 0.0807),
               (-0.13e-3, 0.1121)]
R_XI_RED_68 = [(0.82e-3, 0.0597), (1.13e-3, 0.0458), (1.54e-3, 0.0248), (1.92e-3, 0.0), (1.45e-3, 0.0),
               (1.07e-3, 0.0213), (0.82e-3, 0.0423)]

# row r, column n_s
R_NS_GREEN_95 = [(0.96422, 0.2683), (0.96713, 0.2589), (0.96931, 0.2344), (0.97076, 0.1995), (0.97149, 0.1645),
                 (0.97222, 0.1121), (0.97265, 0.0597), (0.97265, 0.0), (0.94895, 0.0), (0.94967, 0.0423),
                 (0.95113, 0.0947), (0.95258, 0.1471), (0.95476, 0.1995), (0.95767, 0.2379), (0.96102, 0.2624)]
R_NS_GREEN_68 = [(0.96276, 0.1628), (0.96538, 0.1534), (0.96684, 0.1296), (0.96742, 0.0772), (0.96756, 0.0),
                 (0.95433, 0.0), (0.95520, 0.0597), (0.95665, 0.1121), (0.95869, 0.1453), (0.96087, 0.1590)]
R_NS_BLUE_95 = [(0.96247, 0.2372), (0.96567, 0.2281), (0.96785, 0.1995), (0.96931, 0.1645), (0.97033, 0.1121),
                (0.97076, 0.0597), (0.97120, 0.0), (0.94938, 0.0), (0.95011, 0.0423), (0.95142, 0.0947),
                (0.95331, 0.1471), (0.95549, 0.1890), (0.95869, 0.2222)]
R_NS_BLUE_68 = [(0.96233, 0.1436), (0.96495, 0.1331), (0.96640, 0.1121), (0.96713, 0.0597), (0.96713, 0.0),
                (0.95520, 0.0), (0.95578, 0.0597), (0.95724, 0.1052), (0.95913, 0.1296), (0.96102, 0.1418)]
R_NS_RED_95 = [(0.96430, 0.2680), (0.96720, 0.2585), (0.96935, 0.2340), (0.97080, 0.1990), (0.97152, 0.1640),
               (0.97225, 0.1115), (0.97262, 0.0590), (0.97260, 0.0), (0.94910, 0.0), (0.94980, 0.0423),
               (0.95125, 0.0947), (0.95270, 0.1471), (0.95490, 0.1990), (0.95780, 0.2375), (0.96110, 0.2620)]
R_NS_RED_68 = [(0.96276, 0.1792), (0.96538, 0.1698), (0.96684, 0.1471), (0.96742, 0.1121), (0.96785, 0.0597),
               (0.96785, 0.0), (0.95404, 0.0), (0.95476, 0.0597), (0.95622, 0.1121), (0.95811, 0.1541),
               (0.96029, 0.1743)]

# row r, column n_run
R_NRUN_GREEN_95 = [(-1.783e-3, 0.2606), (-1.630e-3, 0.2571), (-1.509e-3, 0.2344), (-1.356e-3, 0.1995),
                   (-1.128e-3, 0.1645), (-0.899e-3, 0.1296), (-0.670e-3, 0.0947), (-0.442e-3, 0.0493),
                   (-0.290e-3, 0.0), (-1.051e-3, 0.0), (-1.356e-3, 0.0423), (-1.661e-3, 0.0947),
                   (-1.813e-3, 0.1471), (-1.859e-3, 0.1995), (-1.844e-3, 0.2449)]
R_NRUN_GREEN_68 = [(-1.234e-3, 0.1541), (-1.112e-3, 0.1471), (-0.975e-3, 0.1121), (-0.823e-3, 0.0772),
                   (-0.670e-3, 0.0423), (-0.594e-3, 0.0), (-0.930e-3, 0.0), (-1.082e-3, 0.0423),
                   (-1.204e-3, 0.0947), (-1.280e-3, 0.1296)]
R_NRUN_BLUE_95 = [(-2.636e-3, 0.2285), (-2.453e-3, 0.2246), (-2.194e-3, 0.2100), (-1.813e-3, 0.1820),
                  (-1.509e-3, 0.1576), (-1.204e-3, 0.1296), (-0.899e-3, 0.0947), (-0.594e-3, 0.0597),
                  (-0.366e-3, 0.0248), (-0.213e-3, 0.0), (-0.747e-3, 0.0), (-1.128e-3, 0.0423),
                  (-1.509e-3, 0.0772), (-1.966e-3, 0.1121), (-2.347e-3, 0.1471), (-2.575e-3, 0.1820),
                  (-2.651e-3, 0.2100)]
R_NRUN_BLUE_68 = [(-1.615e-3, 0.1303), (-1.432e-3, 0.1244), (-1.204e-3, 0.1017), (-0.975e-3, 0.0772),
                  (-0.747e-3, 0.0423), (-0.594e-3, 0.0), (-0.975e-3, 0.0), (-1.204e-3, 0.0353),
                  (-1.432e-3, 0.0702), (-1.585e-3, 0.1052), (-1.630e-3, 0.1226)]
R_NRUN_RED_95 = [(-1.463e-3, 0.2665), (-1.326e-3, 0.2624), (-1.128e-3, 0.2344), (-0.899e-3, 0.1995),
                 (-0.747e-3, 0.1645), (-0.594e-3, 0.1296), (-0.472e-3, 0.0947), (-0.411e-3, 0.0423),
                 (-0.411e-3, 0.0), (-1.204e-3, 0.0), (-1.234e-3, 0.0423), (-1.280e-3, 0.1121),
                 (-1.356e-3, 0.1820), (-1.432e-3, 0.2344), (-1.509e-3, 0.2571)]
R_NRUN_RED_68 = [(-1.051e-3, 0.1792), (-0.930e-3, 0.1715), (-0.823e-3, 0.1471), (-0.716e-3, 0.1121),
                 (-0.594e-3, 0.0772), (-0.518e-3, 0.0423), (-0.518e-3, 0.0), (-0.930e-3, 0.0),
                 (-1.021e-3, 0.0423), (-1.112e-3, 0.0947), (-1.128e-3, 0.1471)]

# ---------------- assemble tables ----------------
RANGES = [RANGE_N, RANGE_XI, RANGE_NS, RANGE_NRUN, RANGE_R]
TICKS = [TICKS_N, TICKS_XI, TICKS_NS, TICKS_NRUN, TICKS_R]
TICKTEXTS = [TICKTEXT_N, TICKTEXT_XI, TICKTEXT_NS, TICKTEXT_NRUN, TICKTEXT_R]
MARGINALS = {
    0: [MARG_N_GREEN, MARG_N_BLUE, MARG_N_RED],
    1: [MARG_XI_GREEN, MARG_XI_BLUE, MARG_XI_RED],
    2: [MARG_NS_GREEN, MARG_NS_BLUE, MARG_NS_RED],
    3: [MARG_NRUN_GREEN, MARG_NRUN_BLUE, MARG_NRUN_RED],
    4: [MARG_R_GREEN, MARG_R_BLUE, MARG_R_RED],
}
CONTOURS = {
    (1, 0): [(XI_N_GREEN_95, XI_N_GREEN_68), (XI_N_BLUE_95, XI_N_BLUE_68), (XI_N_RED_95, XI_N_RED_68)],
    (2, 0): [(NS_N_GREEN_95, NS_N_GREEN_68), (NS_N_BLUE_95, NS_N_BLUE_68), (NS_N_RED_95, NS_N_RED_68)],
    (2, 1): [(NS_XI_GREEN_95, NS_XI_GREEN_68), (NS_XI_BLUE_95, NS_XI_BLUE_68), (NS_XI_RED_95, NS_XI_RED_68)],
    (3, 0): [(NRUN_N_GREEN_95, NRUN_N_GREEN_68), (NRUN_N_BLUE_95, NRUN_N_BLUE_68), (NRUN_N_RED_95, NRUN_N_RED_68)],
    (3, 1): [(NRUN_XI_GREEN_95, NRUN_XI_GREEN_68), (NRUN_XI_BLUE_95, NRUN_XI_BLUE_68), (NRUN_XI_RED_95, NRUN_XI_RED_68)],
    (3, 2): [(NRUN_NS_GREEN_95, NRUN_NS_GREEN_68), (NRUN_NS_BLUE_95, NRUN_NS_BLUE_68), (NRUN_NS_RED_95, NRUN_NS_RED_68)],
    (4, 0): [(R_N_GREEN_95, R_N_GREEN_68), (R_N_BLUE_95, R_N_BLUE_68), (R_N_RED_95, R_N_RED_68)],
    (4, 1): [(R_XI_GREEN_95, R_XI_GREEN_68), (R_XI_BLUE_95, R_XI_BLUE_68), (R_XI_RED_95, R_XI_RED_68)],
    (4, 2): [(R_NS_GREEN_95, R_NS_GREEN_68), (R_NS_BLUE_95, R_NS_BLUE_68), (R_NS_RED_95, R_NS_RED_68)],
    (4, 3): [(R_NRUN_GREEN_95, R_NRUN_GREEN_68), (R_NRUN_BLUE_95, R_NRUN_BLUE_68), (R_NRUN_RED_95, R_NRUN_RED_68)],
}
DASHED_ZERO_COLS = [1, 3]  # xi = 0 and n_run = 0 reference lines

FONT = "DejaVu Sans"
ALPHA = 0.55


def rgba(rgb, a):
    return f"rgba({rgb[0]},{rgb[1]},{rgb[2]},{a})"


def pale(rgb):
    return tuple(int(round(c * 0.4 + 255 * 0.6)) for c in rgb)


def px_x(p):
    return p / W


def px_y(p):
    return 1 - p / H


def signed_area(pts, xr, yr):
    sx, sy = xr[1] - xr[0], yr[1] - yr[0]
    a = 0.0
    for n in range(len(pts)):
        x0, y0 = pts[n]
        x1, y1 = pts[(n + 1) % len(pts)]
        a += ((x0 / sx) * (y1 / sy) - (x1 / sx) * (y0 / sy))
    return a


def oriented(pts, positive, xr, yr):
    a = signed_area(pts, xr, yr)
    return list(pts) if (a > 0) == positive else list(reversed(pts))


fig = go.Figure()
layout = dict(width=W, height=H, autosize=False, margin=dict(l=0, r=0, t=0, b=0),
              paper_bgcolor="white", plot_bgcolor="white", showlegend=False)
shapes, annotations = [], []

k = 0
for i in range(5):
    for j in range(i + 1):
        k += 1
        sx = "" if k == 1 else str(k)
        xref, yref = "x" + sx, "y" + sx
        common = dict(showline=True, linecolor="black", linewidth=2, showgrid=False, zeroline=False,
                      tickfont=dict(family=FONT, size=35, color="black"))
        xa = dict(common, domain=[px_x(COL_X[j]), px_x(COL_X[j + 1])], anchor=yref, range=RANGES[j],
                  tickmode="array", tickvals=TICKS[j], ticktext=TICKTEXTS[j], ticks="inside", ticklen=7,
                  tickwidth=2, tickcolor="black", showticklabels=(i == 4), ticklabelstandoff=-6,
                  mirror=True if i == j else "ticks")
        ya = dict(common, domain=[px_y(ROW_Y[i + 1]), px_y(ROW_Y[i])], anchor=xref)
        if i == j:
            ya.update(range=[0, 1.1], ticks="", showticklabels=False, mirror=True)
        else:
            ya.update(range=RANGES[i], tickmode="array", tickvals=TICKS[i], ticktext=TICKTEXTS[i],
                      ticks="inside", ticklen=7, tickwidth=2, tickcolor="black",
                      showticklabels=(j == 0), ticklabelstandoff=5, mirror="ticks")
        layout["xaxis" + sx] = xa
        layout["yaxis" + sx] = ya

        if i == j:
            for s, pts in enumerate(MARGINALS[i]):
                fig.add_trace(go.Scatter(x=[p[0] for p in pts], y=[p[1] for p in pts], mode="lines",
                                         line=dict(color=rgba(SERIES_RGB[s], 1), width=3.8, shape="spline",
                                                   smoothing=0.8),
                                         xaxis=xref, yaxis=yref, hoverinfo="skip"))
        else:
            xr, yr = RANGES[j], RANGES[i]
            for s, (c95, c68) in enumerate(CONTOURS[(i, j)]):
                col = SERIES_RGB[s]
                outer = oriented(c95, True, xr, yr)
                hole = oriented(c68, False, xr, yr)
                inner = oriented(c68, True, xr, yr)
                # outer band (95% minus 68%) drawn with a hole, so bands do not stack
                xs = [p[0] for p in outer] + [outer[0][0], None] + [p[0] for p in hole] + [hole[0][0]]
                ys = [p[1] for p in outer] + [outer[0][1], None] + [p[1] for p in hole] + [hole[0][1]]
                fig.add_trace(go.Scatter(x=xs, y=ys, mode="lines", fill="toself",
                                         fillcolor=rgba(pale(col), ALPHA),
                                         line=dict(color=rgba(col, 0.3), width=1.5, shape="spline", smoothing=0.9),
                                         xaxis=xref, yaxis=yref, hoverinfo="skip"))
                xs = [p[0] for p in inner] + [inner[0][0]]
                ys = [p[1] for p in inner] + [inner[0][1]]
                fig.add_trace(go.Scatter(x=xs, y=ys, mode="lines", fill="toself",
                                         fillcolor=rgba(col, ALPHA),
                                         line=dict(color=rgba(col, 0.0), width=0.5, shape="spline", smoothing=0.9),
                                         xaxis=xref, yaxis=yref, hoverinfo="skip"))
        if j in DASHED_ZERO_COLS:
            shapes.append(dict(type="line", xref=xref, yref=yref + " domain", x0=0, x1=0, y0=0, y1=1,
                               line=dict(color="black", width=2.5, dash="13px,6px"), layer="above"))

# axis labels
X_LABEL_CENTERS = [507, 1055, 1603, 2151, 2699]
for j in range(5):
    annotations.append(dict(text=PARAM_LABELS[j], x=px_x(X_LABEL_CENTERS[j]), y=px_y(2910), xref="paper",
                            yref="paper", xanchor="center", yanchor="top", showarrow=False,
                            font=dict(family=FONT, size=43, color="black")))
Y_LABEL_X = {1: 52, 2: 84, 3: 32, 4: 106}
for i in range(1, 5):
    annotations.append(dict(text=PARAM_LABELS[i], x=px_x(Y_LABEL_X[i]), y=px_y((ROW_Y[i] + ROW_Y[i + 1]) / 2),
                            xref="paper", yref="paper", xanchor="center", yanchor="middle", textangle=-90,
                            showarrow=False, font=dict(family=FONT, size=43, color="black")))

# legend (drawn manually to match the patch style)
LX0, LX1, LY0, LY1, RAD = 1029, 1958, 27, 288, 8
path = (f"M {px_x(LX0 + RAD)},{px_y(LY0)} L {px_x(LX1 - RAD)},{px_y(LY0)} "
        f"Q {px_x(LX1)},{px_y(LY0)} {px_x(LX1)},{px_y(LY0 + RAD)} L {px_x(LX1)},{px_y(LY1 - RAD)} "
        f"Q {px_x(LX1)},{px_y(LY1)} {px_x(LX1 - RAD)},{px_y(LY1)} L {px_x(LX0 + RAD)},{px_y(LY1)} "
        f"Q {px_x(LX0)},{px_y(LY1)} {px_x(LX0)},{px_y(LY1 - RAD)} L {px_x(LX0)},{px_y(LY0 + RAD)} "
        f"Q {px_x(LX0)},{px_y(LY0)} {px_x(LX0 + RAD)},{px_y(LY0)} Z")
shapes.append(dict(type="path", path=path, xref="paper", yref="paper", fillcolor="rgba(255,255,255,0.8)",
                   line=dict(color="#cccccc", width=2), layer="above"))
ROW_CENTERS = [68, 150, 232]
for s in range(3):
    cy = ROW_CENTERS[s]
    shapes.append(dict(type="rect", xref="paper", yref="paper", x0=px_x(1049), x1=px_x(1155),
                       y0=px_y(cy + 19), y1=px_y(cy - 19), fillcolor=rgba(SERIES_RGB[s], ALPHA),
                       line=dict(color=rgba(SERIES_RGB[s], 0.3), width=1), layer="above"))
    annotations.append(dict(text=SERIES_NAMES[s], x=px_x(1197), y=px_y(cy + 6), xref="paper", yref="paper",
                            xanchor="left", yanchor="middle", showarrow=False,
                            font=dict(family=FONT, size=52, color="black")))

layout["shapes"] = shapes
layout["annotations"] = annotations
fig.update_layout(**layout)
fig.write_html("out.html")
